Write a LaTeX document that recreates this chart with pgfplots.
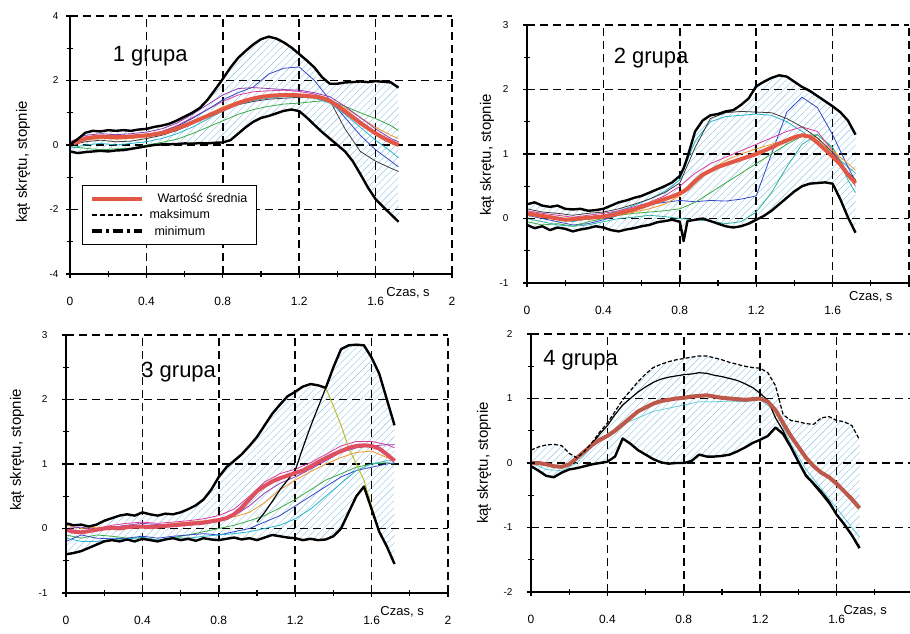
\documentclass[border=0pt]{standalone}
\usepackage{pgfplots}
\pgfplotsset{compat=1.18}
\usepackage{pgfplotstable}
\usepgfplotslibrary{fillbetween}
\usetikzlibrary{patterns.meta}
\usepackage{fontspec}
\setmainfont{Liberation Sans}

\definecolor{meanred}{RGB}{226,88,68}
\definecolor{hatchblue}{RGB}{140,195,228}
\definecolor{cA}{RGB}{214,60,160}
\definecolor{cB}{RGB}{60,170,70}
\definecolor{cC}{RGB}{50,70,200}
\definecolor{cD}{RGB}{60,60,60}
\definecolor{cE}{RGB}{240,150,40}
\definecolor{cF}{RGB}{40,180,205}
\definecolor{cG}{RGB}{140,60,175}
\definecolor{cY}{RGB}{190,190,40}

% group 1: envelope and mean
\pgfplotstableread{
x max min mean
0.00 0.02 -0.20 0.00
0.04 0.18 -0.25 0.10
0.08 0.38 -0.22 0.20
0.12 0.44 -0.20 0.24
0.16 0.42 -0.18 0.26
0.20 0.46 -0.20 0.25
0.24 0.44 -0.17 0.24
0.28 0.46 -0.16 0.25
0.32 0.44 -0.12 0.26
0.36 0.48 -0.08 0.28
0.40 0.50 -0.04 0.30
0.44 0.56 0.00 0.33
0.48 0.60 0.02 0.37
0.52 0.66 0.02 0.43
0.56 0.76 0.03 0.52
0.60 0.88 0.05 0.60
0.64 1.00 0.04 0.70
0.68 1.15 0.06 0.80
0.72 1.40 0.05 0.90
0.76 1.72 0.07 1.00
0.80 2.05 0.08 1.10
0.84 2.40 0.15 1.20
0.88 2.70 0.35 1.30
0.92 2.92 0.55 1.38
0.96 3.12 0.72 1.44
1.00 3.28 0.84 1.49
1.04 3.36 0.90 1.52
1.08 3.30 0.98 1.54
1.12 3.18 1.06 1.55
1.16 3.02 1.10 1.55
1.20 2.82 1.05 1.54
1.24 2.62 0.85 1.52
1.28 2.40 0.62 1.50
1.32 2.10 0.40 1.46
1.36 1.90 0.20 1.37
1.40 1.90 0.00 1.22
1.44 1.94 -0.20 1.04
1.48 1.95 -0.50 0.86
1.52 1.97 -0.90 0.68
1.56 1.95 -1.32 0.52
1.60 1.98 -1.68 0.36
1.64 1.96 -1.92 0.22
1.68 1.94 -2.15 0.10
1.72 1.78 -2.38 0.00
}\grpA
% group 1: single trials
\pgfplotstableread{
x a b c d e f g
0.00 0.00 -0.05 0.05 0.00 0.00 -0.10 0.10
0.08 0.25 -0.10 0.20 0.10 0.15 0.00 0.30
0.16 0.30 -0.15 0.25 0.15 0.20 0.05 0.35
0.24 0.28 -0.12 0.20 0.10 0.18 0.00 0.32
0.32 0.30 -0.10 0.22 0.12 0.20 0.05 0.35
0.40 0.32 0.00 0.28 0.20 0.25 0.10 0.40
0.48 0.42 0.08 0.40 0.30 0.35 0.20 0.50
0.56 0.60 0.18 0.58 0.45 0.50 0.35 0.68
0.64 0.85 0.35 0.82 0.65 0.72 0.55 0.95
0.72 1.10 0.55 1.10 0.90 0.95 0.80 1.25
0.80 1.35 0.75 1.40 1.10 1.18 1.05 1.55
0.88 1.55 0.95 1.62 1.25 1.35 1.25 1.75
0.96 1.65 1.10 1.80 1.35 1.45 1.38 1.78
1.04 1.68 1.20 2.20 1.42 1.50 1.45 1.75
1.12 1.70 1.27 2.38 1.45 1.52 1.50 1.72
1.20 1.66 1.30 2.42 1.48 1.52 1.50 1.70
1.28 1.58 1.35 2.00 1.46 1.50 1.45 1.62
1.36 1.42 1.38 1.40 1.38 1.40 1.30 1.50
1.44 1.10 1.20 0.85 0.50 1.15 0.95 1.20
1.52 0.75 1.00 0.30 -0.20 0.85 0.55 0.85
1.60 0.40 0.82 -0.15 -0.50 0.55 0.15 0.50
1.68 0.15 0.60 -0.50 -0.72 0.30 -0.20 0.20
1.72 0.05 0.45 -0.68 -0.82 0.20 -0.40 0.10
}\indA

% group 2
\pgfplotstableread{
x max min mean
0.00 0.22 -0.10 0.08
0.04 0.25 -0.15 0.06
0.08 0.20 -0.12 0.04
0.12 0.18 -0.18 0.02
0.16 0.20 -0.14 0.00
0.20 0.15 -0.16 -0.02
0.24 0.14 -0.20 -0.01
0.28 0.15 -0.17 0.00
0.32 0.12 -0.15 0.01
0.36 0.13 -0.12 0.02
0.40 0.15 -0.14 0.03
0.44 0.20 -0.18 0.05
0.48 0.25 -0.20 0.08
0.52 0.28 -0.17 0.11
0.56 0.32 -0.15 0.14
0.60 0.35 -0.12 0.18
0.64 0.40 -0.10 0.22
0.68 0.45 -0.06 0.26
0.72 0.50 -0.04 0.30
0.76 0.56 -0.02 0.34
0.80 0.66 -0.05 0.39
0.82 0.78 -0.35 0.42
0.84 0.95 -0.04 0.46
0.88 1.35 -0.02 0.58
0.92 1.52 0.00 0.68
0.96 1.60 -0.04 0.74
1.00 1.62 -0.08 0.80
1.04 1.66 -0.12 0.84
1.08 1.68 -0.14 0.88
1.12 1.76 -0.12 0.92
1.16 1.86 -0.08 0.96
1.20 2.05 -0.02 1.00
1.24 2.12 0.04 1.05
1.28 2.18 0.12 1.10
1.32 2.22 0.22 1.16
1.36 2.20 0.32 1.21
1.40 2.12 0.42 1.26
1.44 2.04 0.50 1.29
1.48 1.98 0.54 1.27
1.52 1.90 0.55 1.18
1.56 1.82 0.56 1.07
1.60 1.74 0.54 0.96
1.64 1.65 0.30 0.84
1.68 1.52 0.02 0.68
1.72 1.30 -0.22 0.55
}\grpB
\pgfplotstableread{
x a b c d e f g
0.00 0.10 0.05 -0.05 0.00 0.12 0.05 0.15
0.08 0.05 0.00 -0.10 -0.05 0.08 0.02 0.10
0.16 0.00 -0.05 -0.08 -0.10 0.05 0.00 0.08
0.24 -0.05 -0.10 -0.12 -0.12 0.02 -0.02 0.05
0.32 0.00 -0.08 -0.05 -0.10 0.05 0.00 0.08
0.40 0.05 -0.02 0.00 -0.05 0.08 0.02 0.10
0.48 0.12 0.05 0.05 0.00 0.12 0.05 0.15
0.56 0.20 0.15 0.08 0.02 0.18 0.10 0.22
0.64 0.30 0.22 0.10 0.05 0.25 0.15 0.30
0.72 0.42 0.25 0.12 0.03 0.35 0.22 0.40
0.80 0.60 0.28 0.15 0.00 0.50 0.35 0.55
0.88 1.20 0.26 0.25 -0.02 0.70 0.55 1.10
0.96 1.50 0.28 0.40 -0.04 0.85 0.75 1.55
1.04 1.58 0.27 0.55 -0.08 0.95 0.90 1.64
1.12 1.60 0.30 0.70 -0.05 1.05 1.00 1.66
1.20 1.62 0.35 0.85 0.10 1.15 1.08 1.65
1.28 1.60 1.00 1.00 0.40 1.25 1.15 1.64
1.36 1.50 1.65 1.15 0.80 1.35 1.22 1.55
1.44 1.35 1.88 1.28 1.15 1.42 1.30 1.42
1.52 1.18 1.72 1.30 1.30 1.35 1.25 1.25
1.60 1.00 1.30 1.10 1.10 1.05 1.05 1.02
1.68 0.80 0.80 0.70 0.60 0.70 0.85 0.72
1.72 0.70 0.58 0.55 0.40 0.50 0.75 0.60
}\indB

% group 3
\pgfplotstableread{
x max min mean
0.00 0.08 -0.40 -0.02
0.04 0.05 -0.38 -0.05
0.08 0.06 -0.35 -0.06
0.12 0.03 -0.30 -0.04
0.16 0.06 -0.25 -0.02
0.20 0.12 -0.20 0.00
0.24 0.16 -0.18 0.01
0.28 0.20 -0.20 0.00
0.32 0.22 -0.17 0.02
0.36 0.20 -0.20 0.03
0.40 0.25 -0.16 0.03
0.44 0.22 -0.18 0.02
0.48 0.20 -0.20 0.03
0.52 0.23 -0.17 0.04
0.56 0.22 -0.15 0.05
0.60 0.25 -0.18 0.06
0.64 0.30 -0.16 0.07
0.68 0.36 -0.19 0.08
0.72 0.45 -0.15 0.09
0.76 0.60 -0.17 0.11
0.80 0.80 -0.18 0.13
0.84 0.95 -0.16 0.16
0.88 1.05 -0.14 0.22
0.92 1.15 -0.17 0.32
0.96 1.28 -0.15 0.45
1.00 1.42 -0.18 0.58
1.04 1.60 -0.14 0.66
1.08 1.78 -0.10 0.73
1.12 1.92 -0.12 0.78
1.16 2.05 -0.14 0.82
1.20 2.12 -0.15 0.86
1.24 2.20 -0.18 0.90
1.28 2.24 -0.16 0.96
1.32 2.22 -0.18 1.03
1.36 2.18 -0.17 1.09
1.40 2.50 -0.12 1.15
1.44 2.78 0.00 1.20
1.48 2.84 0.25 1.25
1.52 2.85 0.50 1.28
1.56 2.84 0.65 1.29
1.60 2.65 0.30 1.28
1.64 2.40 -0.05 1.24
1.68 2.00 -0.28 1.15
1.72 1.60 -0.55 1.05
}\grpC
\pgfplotstableread{
x a b c d e f
0.00 -0.10 0.00 -0.20 0.05 -0.15 0.00
0.08 -0.15 -0.05 -0.10 0.00 -0.20 0.02
0.16 -0.10 0.00 -0.15 0.02 -0.20 -0.02
0.24 -0.12 0.05 -0.16 0.00 -0.17 0.02
0.32 -0.15 0.08 -0.15 0.05 -0.16 0.05
0.40 -0.14 0.10 -0.12 0.02 -0.14 0.08
0.48 -0.18 0.08 -0.15 0.05 -0.18 0.06
0.56 -0.14 0.10 -0.12 0.08 -0.14 0.05
0.64 -0.10 0.12 -0.10 0.10 -0.15 0.08
0.72 -0.05 0.15 -0.08 0.12 -0.12 0.10
0.80 0.00 0.20 -0.10 0.15 -0.10 0.12
0.88 0.05 0.30 -0.05 0.18 -0.08 0.20
0.96 0.12 0.50 0.00 0.25 -0.05 0.35
1.04 0.20 0.72 0.10 0.40 0.00 0.55
1.12 0.32 0.85 0.20 0.60 0.05 0.70
1.20 0.45 0.92 0.35 0.75 0.15 0.80
1.28 0.60 1.02 0.50 0.88 0.30 0.92
1.36 0.75 1.15 0.65 1.00 0.50 1.05
1.44 0.85 1.28 0.80 1.10 0.70 1.18
1.52 0.95 1.35 0.90 1.18 0.90 1.25
1.60 1.00 1.35 0.95 1.20 1.00 1.28
1.68 1.02 1.30 1.00 1.10 1.05 1.30
1.72 1.00 1.25 1.02 1.05 1.05 1.30
}\indC

% group 4
\pgfplotstableread{
x max min mean
0.00 0.20 -0.05 0.00
0.04 0.25 -0.12 0.00
0.08 0.28 -0.20 -0.02
0.12 0.29 -0.22 -0.05
0.16 0.27 -0.15 -0.06
0.20 0.15 -0.10 -0.02
0.24 0.08 -0.08 0.08
0.28 0.18 -0.05 0.18
0.32 0.32 -0.02 0.28
0.36 0.48 0.00 0.36
0.40 0.62 0.02 0.42
0.44 0.80 0.10 0.50
0.48 0.98 0.38 0.60
0.52 1.12 0.30 0.70
0.56 1.26 0.20 0.80
0.60 1.38 0.13 0.86
0.64 1.48 0.06 0.92
0.68 1.53 0.01 0.96
0.72 1.57 -0.01 0.98
0.76 1.60 0.00 1.00
0.80 1.62 0.00 1.01
0.84 1.64 0.03 1.03
0.88 1.66 0.13 1.04
0.92 1.66 0.10 1.05
0.96 1.63 0.10 1.03
1.00 1.60 0.11 1.01
1.04 1.56 0.13 1.00
1.08 1.53 0.18 0.99
1.12 1.50 0.24 0.98
1.16 1.48 0.31 0.99
1.20 1.47 0.36 1.00
1.24 1.40 0.42 0.95
1.28 1.20 0.55 0.82
1.32 0.75 0.45 0.62
1.36 0.66 0.25 0.42
1.40 0.64 0.02 0.25
1.44 0.61 -0.20 0.08
1.48 0.60 -0.32 -0.05
1.52 0.70 -0.45 -0.15
1.56 0.72 -0.60 -0.22
1.60 0.66 -0.80 -0.32
1.64 0.64 -0.95 -0.44
1.68 0.58 -1.12 -0.56
1.72 0.36 -1.32 -0.70
}\grpD

\pgfplotsset{
  panel/.style={
    scale only axis, width=382pt, height=258pt, anchor=south west,
    xmin=0, xmax=2, xtick={0,0.4,0.8,1.2,1.6,2}, minor x tick num=1,
    minor y tick num=1,
    xtick pos=bottom, ytick pos=left,
    axis line style={draw=none},
    tick align=center, major tick length=8pt, minor tick length=6pt,
    tick style={black, line width=1.3pt},
    /pgf/number format/assume math mode=true,
    xticklabel style={font=\fontsize{12}{12}\selectfont, yshift=-16pt},
    yticklabel style={font=\fontsize{10}{10}\selectfont},
    ylabel={kąt skrętu, stopnie},
    clip=false,
  },
  ylab/.style 2 args={every axis y label/.style={at={(axis description cs:#1,#2)}, rotate=90, anchor=center, font=\fontsize{15}{15}\selectfont}},
  envline/.style={black, line width=2.4pt, line join=round},
  avgline/.style={meanred, line width=4pt, line join=round},
  trial/.style={line width=0.8pt, line join=round},
  hatchfill/.style={draw=none, pattern={Lines[angle=45,distance=5pt]}, pattern color=hatchblue},
  % dashed grid lines, solid axis lines and tick marks drawn as plots
  gridl/.style={forget plot, black, line width=1.5pt, dash pattern=on 8pt off 5pt},
  axisl/.style={forget plot, black, line width=2pt},
  tickmaj/.style={forget plot, only marks, mark size=4pt, mark options={solid, black, line width=1.3pt}},
  tickmin/.style={forget plot, only marks, mark size=3pt, mark options={solid, black, line width=1.1pt}},
}
\tikzset{
  ttl/.style={font=\fontsize{22}{22}\selectfont, anchor=base},
  czas/.style={font=\fontsize{13}{13}\selectfont, yshift=-19pt},
}

% grid over x = 0.4 ... 2 and the given y levels
\newcommand\panelgrid[3]{%
  \pgfplotsinvokeforeach{0.4,0.8,1.2,1.6,2}{\addplot[gridl] coordinates {(##1,#1) (##1,#2)};}
  \pgfplotsinvokeforeach{#3}{\addplot[gridl] coordinates {(0,##1) (2,##1)};}
}
% solid axes and tick marks along the left and bottom edges
\newcommand\panelframe[4]{%
  \addplot[axisl] coordinates {(0,#2) (0,#1) (2,#1)};
  \addplot[tickmaj, mark=|] coordinates {(0,#1) (0.4,#1) (0.8,#1) (1.2,#1) (1.6,#1) (2,#1)};
  \addplot[tickmin, mark=|] coordinates {(0.2,#1) (0.6,#1) (1.0,#1) (1.4,#1) (1.8,#1)};
  \addplot[tickmaj, mark=-] coordinates {#3};
  \addplot[tickmin, mark=-] coordinates {#4};
}

\begin{document}
\begin{tikzpicture}[x=1pt,y=1pt]

% ---------- group 1 ----------
\begin{axis}[panel, at={(70pt,359pt)}, ymin=-4, ymax=4, ytick={-4,-2,0,2,4},
  ylab={-0.123}{0.434}, yticklabel style={xshift=-4pt},
  legend style={at={(axis description cs:0.031,0.345)}, anchor=north west,
    draw=black, line width=1.4pt, font=\fontsize{12.5}{14.5}\selectfont,
    inner xsep=7pt, inner ysep=6pt, row sep=1.5pt},
  legend cell align=left,
  legend image code/.code={\draw[#1] (0pt,0pt) -- (50pt,0pt);},
]
\addplot[name path=mxA, draw=none, forget plot] table[x=x,y=max]{\grpA};
\addplot[name path=mnA, draw=none, forget plot] table[x=x,y=min]{\grpA};
\addplot[hatchfill, forget plot] fill between[of=mxA and mnA];
\panelgrid{-4}{4}{-2,0,2,4}
\addplot[trial, cA, forget plot] table[x=x,y=a]{\indA};
\addplot[trial, cB, forget plot] table[x=x,y=b]{\indA};
\addplot[trial, cC, forget plot] table[x=x,y=c]{\indA};
\addplot[trial, cD, forget plot] table[x=x,y=d]{\indA};
\addplot[trial, cE, forget plot] table[x=x,y=e]{\indA};
\addplot[trial, cF, forget plot] table[x=x,y=f]{\indA};
\addplot[trial, cG, forget plot] table[x=x,y=g]{\indA};
\addplot[avgline, forget plot] table[x=x,y=mean]{\grpA};
\addplot[envline, forget plot] table[x=x,y=max]{\grpA};
\addplot[envline, forget plot] table[x=x,y=min]{\grpA};
\panelframe{-4}{4}{(0,-4) (0,-2) (0,0) (0,2) (0,4)}{(0,-3) (0,-1) (0,1) (0,3)}
\addlegendimage{meanred, line width=4pt}
\addlegendentry{\hspace*{12pt}Wartość średnia}
\addlegendimage{black, line width=2pt, dash pattern=on 5pt off 3pt}
\addlegendentry{\hspace*{4pt}maksimum}
\addlegendimage{black, line width=4pt, dash pattern=on 10pt off 4pt on 3pt off 4pt}
\addlegendentry{\hspace*{9pt}minimum}
\node[ttl] at (axis cs:0.42,2.58) {1 grupa};
\node[czas] at (axis cs:1.77,-4) {Czas, s};
\end{axis}

% ---------- group 2 ----------
\begin{axis}[panel, at={(527pt,350pt)}, ymin=-1, ymax=3, ytick={-1,0,1,2,3},
  xticklabels={0,0.4,0.8,1.2,1.6,},
  ylab={-0.105}{0.496}, yticklabel style={xshift=-11pt}]
\addplot[name path=mxB, draw=none] table[x=x,y=max]{\grpB};
\addplot[name path=mnB, draw=none] table[x=x,y=min]{\grpB};
\addplot[hatchfill] fill between[of=mxB and mnB];
\panelgrid{-1}{3}{0,1,2,3}
\addplot[trial, cF] table[x=x,y=a]{\indB};
\addplot[trial, cC] table[x=x,y=b]{\indB};
\addplot[trial, cB] table[x=x,y=c]{\indB};
\addplot[trial, cF!70!cB] table[x=x,y=d]{\indB};
\addplot[trial, cA] table[x=x,y=e]{\indB};
\addplot[trial, cE] table[x=x,y=f]{\indB};
\addplot[trial, cD] table[x=x,y=g]{\indB};
\addplot[avgline] table[x=x,y=mean]{\grpB};
\addplot[envline] table[x=x,y=max]{\grpB};
\addplot[envline] table[x=x,y=min]{\grpB};
\panelframe{-1}{3}{(0,-1) (0,0) (0,1) (0,2) (0,3)}{(0,-0.5) (0,0.5) (0,1.5) (0,2.5)}
\node[ttl] at (axis cs:0.65,2.41) {2 grupa};
\node[czas, yshift=5pt] at (axis cs:1.8,-1) {Czas, s};
\end{axis}

% ---------- group 3 ----------
\begin{axis}[panel, at={(66pt,40pt)}, ymin=-1, ymax=3, ytick={-1,0,1,2,3},
  ylab={-0.128}{0.554}, yticklabel style={xshift=-11pt}]
\addplot[name path=mxC, draw=none] table[x=x,y=max]{\grpC};
\addplot[name path=mnC, draw=none] table[x=x,y=min]{\grpC};
\addplot[hatchfill] fill between[of=mxC and mnC];
\panelgrid{-1}{3}{0,1,2,3}
\addplot[trial, cB] table[x=x,y=a]{\indC};
\addplot[trial, cA] table[x=x,y=b]{\indC};
\addplot[trial, cC] table[x=x,y=c]{\indC};
\addplot[trial, cE] table[x=x,y=d]{\indC};
\addplot[trial, cF] table[x=x,y=e]{\indC};
\addplot[trial, cG] table[x=x,y=f]{\indC};
% second trial with the late rise, and the falling branch of the first peak
\addplot[black, line width=1.2pt] coordinates {(1.00,0.10) (1.04,0.25) (1.08,0.42) (1.12,0.60) (1.16,0.75) (1.20,0.90) (1.24,1.25) (1.28,1.58) (1.32,1.88) (1.36,2.18)};
\addplot[trial, cY, line width=1pt] coordinates {(1.36,2.18) (1.40,1.90) (1.44,1.60) (1.48,1.25) (1.52,1.00) (1.56,0.75) (1.60,0.35) (1.64,-0.05) (1.68,-0.30) (1.72,-0.55)};
\addplot[avgline, meanred!70!cA] table[x=x,y=mean]{\grpC};
\addplot[envline] table[x=x,y=max]{\grpC};
\addplot[envline] table[x=x,y=min]{\grpC};
\panelframe{-1}{3}{(0,-1) (0,0) (0,1) (0,2) (0,3)}{(0,-0.5) (0,0.5) (0,1.5) (0,2.5)}
\node[ttl] at (axis cs:0.59,2.34) {3 grupa};
\node[czas] at (axis cs:1.76,-1) {Czas, s};
\end{axis}

% ---------- group 4 ----------
\begin{axis}[panel, at={(531pt,41pt)}, ymin=-2, ymax=2, ytick={-2,-1,0,1,2},
  xticklabels={0,0.4,0.8,1.2,1.6,},
  ylab={-0.123}{0.5}, yticklabel style={xshift=-11pt}]
\addplot[name path=mxD, draw=none] table[x=x,y=max]{\grpD};
\addplot[name path=mnD, draw=none] table[x=x,y=min]{\grpD};
\addplot[hatchfill] fill between[of=mxD and mnD];
\panelgrid{-2}{2}{-1,0,1,2}
\addplot[trial, cF!70] coordinates {(0,0) (0.08,-0.10) (0.16,-0.12) (0.24,0.00) (0.32,0.25) (0.40,0.45) (0.48,0.60) (0.56,0.70) (0.64,0.80) (0.72,0.85) (0.80,0.90) (0.88,0.95) (0.96,0.95) (1.04,0.96) (1.12,0.95) (1.20,0.98) (1.28,0.80) (1.36,0.30) (1.44,-0.10) (1.52,-0.40) (1.60,-0.70) (1.68,-1.00) (1.72,-1.15)};
\addplot[black, line width=1.2pt] coordinates {(0.20,0.00) (0.24,0.05) (0.28,0.18) (0.32,0.30) (0.36,0.45) (0.40,0.58) (0.44,0.75) (0.48,0.90) (0.52,1.00) (0.56,1.10) (0.60,1.18) (0.64,1.25) (0.68,1.30) (0.72,1.33) (0.76,1.35) (0.80,1.37) (0.84,1.38) (0.88,1.40) (0.92,1.39) (0.96,1.36) (1.00,1.34) (1.04,1.31) (1.08,1.28) (1.12,1.23) (1.16,1.17) (1.20,1.08) (1.24,0.97) (1.28,0.70) (1.32,0.50) (1.36,0.25) (1.40,0.02) (1.44,-0.18) (1.48,-0.34) (1.52,-0.48) (1.56,-0.63) (1.60,-0.80) (1.64,-0.96) (1.68,-1.12) (1.72,-1.30)};
\addplot[avgline, meanred!80!black!90] table[x=x,y=mean]{\grpD};
\addplot[black, line width=1.2pt, dash pattern=on 4pt off 2pt] table[x=x,y=max]{\grpD};
\addplot[envline] table[x=x,y=min]{\grpD};
\panelframe{-2}{2}{(0,-2) (0,-1) (0,0) (0,1) (0,2)}{(0,-1.5) (0,-0.5) (0,0.5) (0,1.5)}
\node[ttl] at (axis cs:0.26,1.51) {4 grupa};
\node[czas] at (axis cs:1.75,-2) {Czas, s};
\end{axis}

\pgfresetboundingbox
\useasboundingbox (0,0) rectangle (910,633);
\end{tikzpicture}
\end{document}
